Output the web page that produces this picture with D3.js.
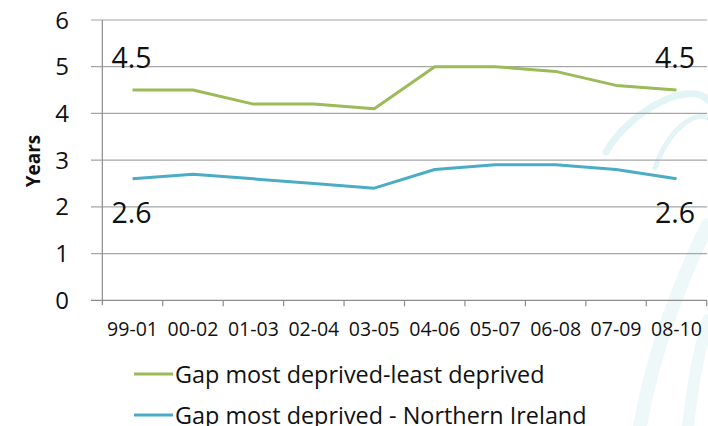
<!DOCTYPE html>
<html><head><meta charset="utf-8">
<script src="https://cdn.jsdelivr.net/npm/d3@7"></script>
<style>body{margin:0;background:#fff}svg{display:block}</style>
</head><body>
<svg id="c" width="708" height="426"></svg>
<script>
const categories = ["99-01","00-02","01-03","02-04","03-05","04-06","05-07","06-08","07-09","08-10"];
const gapLeast = [4.5,4.5,4.2,4.2,4.1,5.0,5.0,4.9,4.6,4.5];
const gapNI = [2.6,2.7,2.6,2.5,2.4,2.8,2.9,2.9,2.8,2.6];
const seriesNames = ["Gap most deprived-least deprived","Gap most deprived - Northern Ireland"];
const yTicks = [0,1,2,3,4,5,6];
const colors = ["#9BBB59","#4BACC6"];
const font = "'Open Sans', sans-serif";

const svg = d3.select("#c");
// faint background swirl
const bg = svg.append("g").attr("fill","none").attr("stroke","#e3f4f6").attr("stroke-linecap","round");
bg.append("path").attr("d","M606,152 C630,110 690,80 708,100").attr("stroke-width",7);
bg.append("path").attr("d","M655,168 C668,130 695,110 708,118").attr("stroke-width",5);
bg.append("path").attr("d","M640,426 C655,340 690,260 708,225").attr("stroke-width",14).attr("stroke","#eef8f9");
bg.append("path").attr("d","M688,426 C693,380 702,340 708,320").attr("stroke-width",12).attr("stroke","#eef8f9");

const x = d3.scaleBand().domain(categories).range([102.3,706.7]);
const y = d3.scaleLinear().domain([0,6]).range([300.3,20]);

// gridlines
svg.append("g").selectAll("line").data(yTicks).join("line")
  .attr("x1",91).attr("x2",707).attr("y1",d=>y(d)).attr("y2",d=>y(d))
  .attr("stroke",d=>d===0?"#8c8c8c":"#a6a6a6").attr("stroke-width",1.2);
// y axis line
svg.append("line").attr("x1",102.3).attr("x2",102.3).attr("y1",y(6)).attr("y2",y(0)+5)
  .attr("stroke","#8c8c8c").attr("stroke-width",1.2);
// x ticks
const xt = categories.map(c=>x(c)).concat([x(categories[categories.length-1])+x.bandwidth()]);
svg.append("g").selectAll("line").data(xt.slice(1)).join("line")
  .attr("x1",d=>d).attr("x2",d=>d).attr("y1",y(0)).attr("y2",y(0)+6)
  .attr("stroke","#8c8c8c").attr("stroke-width",1.2);

// y tick labels
svg.append("g").selectAll("text").data(yTicks).join("text")
  .attr("x",69).attr("y",d=>y(d)+8.5).attr("text-anchor","end")
  .attr("font-family",font).attr("font-size",24).attr("fill","#111").text(d=>d);
// x labels
svg.append("g").selectAll("text").data(categories).join("text")
  .attr("x",d=>x(d)+x.bandwidth()/2).attr("y",336).attr("text-anchor","middle")
  .attr("font-family",font).attr("font-size",19.5).attr("fill","#111").text(d=>d);
// y title
svg.append("text").attr("transform","translate(39.5,161) rotate(-90)").attr("text-anchor","middle")
  .attr("font-family",font).attr("font-size",19).attr("font-weight","bold").attr("fill","#111").text("Years");

const line = d3.line().x((d,i)=>x(categories[i])+x.bandwidth()/2).y(d=>y(d));
[gapLeast,gapNI].forEach((s,k)=>{
  svg.append("path").datum(s).attr("d",line).attr("fill","none")
    .attr("stroke",colors[k]).attr("stroke-width",3).attr("stroke-linejoin","round");
});

// data labels
const lbl = [
  {v:gapLeast[0], i:0, dy:-22},
  {v:gapLeast[9], i:9, dy:-22},
  {v:gapNI[0], i:0, dy:44},
  {v:gapNI[9], i:9, dy:44}
];
svg.append("g").selectAll("text").data(lbl).join("text")
  .attr("x",d=>x(categories[d.i])+x.bandwidth()/2 + (d.i===0?-1:-1.5)).attr("y",d=>y(d.v)+d.dy)
  .attr("text-anchor","middle").attr("font-family",font).attr("font-size",28.5).attr("fill","#111")
  .text(d=>d.v.toFixed(1));

// legend
seriesNames.forEach((n,k)=>{
  const ly = 374 + k*41;
  svg.append("line").attr("x1",134).attr("x2",173).attr("y1",ly).attr("y2",ly)
    .attr("stroke",colors[k]).attr("stroke-width",3);
  svg.append("text").attr("x",175).attr("y",ly+8.5).attr("font-family",font).attr("font-size",23.4)
    .attr("fill","#111").text(n);
});
</script>
</body></html>
